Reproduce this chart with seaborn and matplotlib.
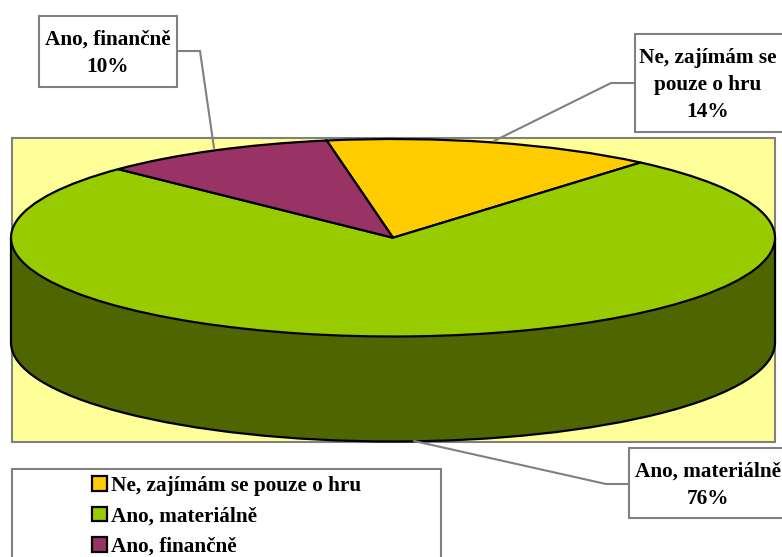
import matplotlib
matplotlib.use("Agg")
import matplotlib.pyplot as plt
from matplotlib.patches import Rectangle, Arc
import seaborn as sns

categories = ["Ne, zajímám se pouze o hru", "Ano, materiálně", "Ano, finančně"]
values = [14, 76, 10]
callouts = ["Ne, zajímám se\npouze o hru\n14%", "Ano, materiálně\n76%", "Ano, finančně\n10%"]
top_colors = ["#FFCC00", "#99CC00", "#993366"]

sns.set_theme(style="white")
plt.rcParams["font.family"] = ["Liberation Serif", "DejaVu Serif"]
plt.rcParams["font.weight"] = "bold"

W, H = 782, 557
GREY = "#808080"
FS = 15.3
fig = plt.figure(figsize=(W / 100, H / 100), dpi=100, facecolor="white")

# pixel-space layer
bg = fig.add_axes([0, 0, 1, 1], zorder=0)
bg.set_xlim(0, W)
bg.set_ylim(H, 0)
bg.axis("off")
bg.add_patch(Rectangle((12, 138), 763, 304, fc="#FFFF99", ec=GREY, lw=1.5))
bg.add_patch(Rectangle((11.5, 468.5), 429, 100, fc="white", ec=GREY, lw=1.5))

# pie layer: the axes box is the top ellipse's bounding box
L, T, RW, RH = 11, 139, 764, 197.5
ax = fig.add_axes([L / W, 1 - (T + RH) / H, RW / W, RH / H], zorder=1)
depth = 105 / (RH / 2)
ax.pie(values, colors=["#4F6600"] * 3, startangle=100, counterclock=False, center=(0, -depth),
       radius=1, frame=False, wedgeprops=dict(lw=0, clip_on=False, zorder=1))
ax.add_patch(Rectangle((-1, -depth), 2, depth, fc="#4F6600", ec="none", clip_on=False, zorder=1))
ax.add_patch(Arc((0, -depth), 2, 2, theta1=180, theta2=360, ec="black", lw=1.6, clip_on=False, zorder=1.5))
ax.plot([-1, -1], [0, -depth], color="black", lw=1.6, clip_on=False, zorder=1.5)
ax.plot([1, 1], [0, -depth], color="black", lw=1.6, clip_on=False, zorder=1.5)
wedges, _ = ax.pie(values, colors=top_colors, startangle=100, counterclock=False, radius=1, frame=False,
                   wedgeprops=dict(lw=1.6, edgecolor="black", clip_on=False, zorder=3))
ax.set_aspect("auto")
ax.set_xlim(-1, 1)
ax.set_ylim(-1, 1)
ax.axis("off")

# callouts and legend on top
fg = fig.add_axes([0, 0, 1, 1], zorder=2)
fg.set_xlim(0, W)
fg.set_ylim(H, 0)
fg.axis("off")
fg.patch.set_alpha(0)
boxes = [(634.5, 34, 152, 98), (629, 448, 160, 70), (38.5, 16, 138.5, 71)]
text_xy = [(708, 85), (708, 485), (108, 53.5)]
leaders = [([634, 611, 494], [83, 83, 141]), ([629, 606, 414], [484, 484, 441]), ([177, 200, 214], [51, 51, 148])]
for (x, y, w, h), (tx, ty), (lx, ly), s in zip(boxes, text_xy, leaders, callouts):
    fg.plot(lx, ly, color=GREY, lw=1.5, solid_joinstyle="miter")
    fg.add_patch(Rectangle((x, y), w, h, fc="white", ec=GREY, lw=1.5, zorder=3))
    fg.text(tx, ty, s, ha="center", va="center", fontsize=FS, fontweight="bold", color="black",
            linespacing=1.48, zorder=4)

leg = fg.legend(wedges, categories, loc="upper left", bbox_to_anchor=(92 / W, 1 - 476 / H),
                frameon=False, fontsize=FS, handlelength=0.7, handleheight=0.7, handletextpad=0.19,
                labelspacing=0.49, borderpad=0, borderaxespad=0)
for t in leg.get_texts():
    t.set_color("black")
    t.set_fontweight("bold")

fig.savefig("out.png", dpi=100, facecolor="white")
